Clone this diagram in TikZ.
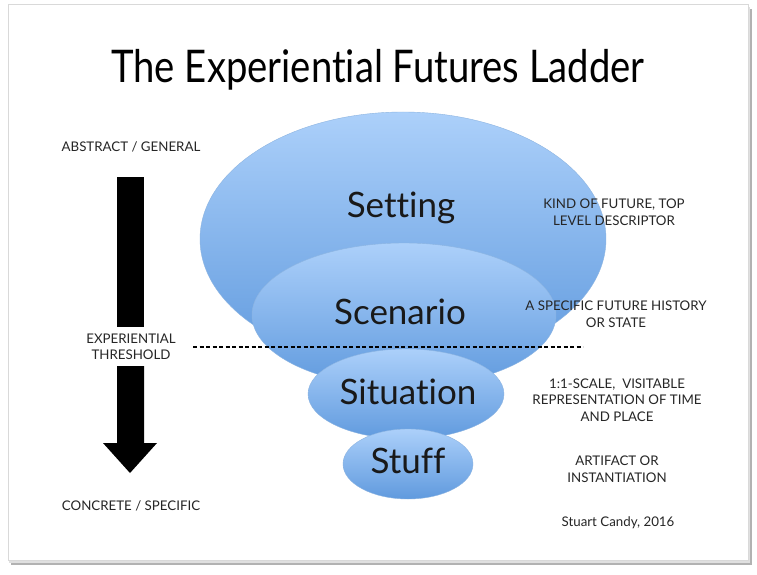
\documentclass[tikz,border=0pt]{standalone}
\usepackage{fontspec}
\setmainfont[Ligatures=NoCommon]{Lato}
\begin{document}
\begin{tikzpicture}[x=1pt,y=-1pt,
  lbl/.style={font=\fontsize{13.3}{16.5}\selectfont, align=center, inner sep=0pt, text=black!85},
  rung/.style={top color=ladtop, bottom color=ladbot, draw=ladedge, line width=0.4pt},
  rungtxt/.style={font=\fontsize{35}{40}\selectfont, inner sep=0pt, text=black!90},
  blk/.style={fill=black, draw=none}
]
\definecolor{ladtop}{RGB}{172,208,250}
\definecolor{ladbot}{RGB}{96,154,222}
\definecolor{ladedge}{RGB}{140,180,225}
\useasboundingbox (0,0) rectangle (757,575);
% slide with shadow
\fill[black!30] (11,9) rectangle (752,565);
\fill[black!12] (9,7) rectangle (750,563);
\fill[white, draw=black!15, line width=1pt] (8,5) rectangle (748,560);
% title
\node[font=\fontsize{45}{50}\selectfont, inner sep=0pt, anchor=base] (title) at (378,83) {\scalebox{0.85}[1]{The Experiential Futures Ladder}};
% ellipses
\shade[rung] (403,239) ellipse (203 and 127);
\shade[rung] (404,315) ellipse (152 and 72);
\shade[rung] (406,394) ellipse (98 and 45);
\shade[rung] (408,464) ellipse (65 and 35);
\node[rungtxt] (setting) at (401,208) {Setting};
\node[rungtxt] (scenario) at (400,312) {Scenario};
\node[rungtxt] (situation) at (408,392) {Situation};
\node[rungtxt] (stuff) at (408,461) {Stuff};
% threshold line
\coordinate (thA) at (193,347);
\coordinate (thB) at (583,347);
\draw[line width=1.1pt, dash pattern=on 4pt off 2.5pt] (thA) -- (thB);
% left arrow
\fill[blk] (117,177) rectangle (144,327);
\fill[blk] (117,366) -- (144,366) -- (144,443) -- (157,443) -- (130,473) -- (103,443) -- (117,443) -- cycle;
% left labels
\node[lbl] (abstract) at (131,147) {ABSTRACT / GENERAL};
\node[lbl] (threshold) at (131,347) {EXPERIENTIAL\\THRESHOLD};
\node[lbl] (concrete) at (131,506) {CONCRETE / SPECIFIC};
% right labels
\node[lbl] (d1) at (614,212) {KIND OF FUTURE, TOP\\LEVEL DESCRIPTOR};
\node[lbl] (d2) at (616,314) {A SPECIFIC FUTURE HISTORY\\OR STATE};
\node[lbl] (d3) at (617,400) {1:1-SCALE,\ \ VISITABLE\\REPRESENTATION OF TIME\\AND PLACE};
\node[lbl] (d4) at (617,469) {ARTIFACT OR\\INSTANTIATION};
\node[lbl] (credit) at (618,523) {Stuart Candy, 2016};
\end{tikzpicture}
\end{document}
